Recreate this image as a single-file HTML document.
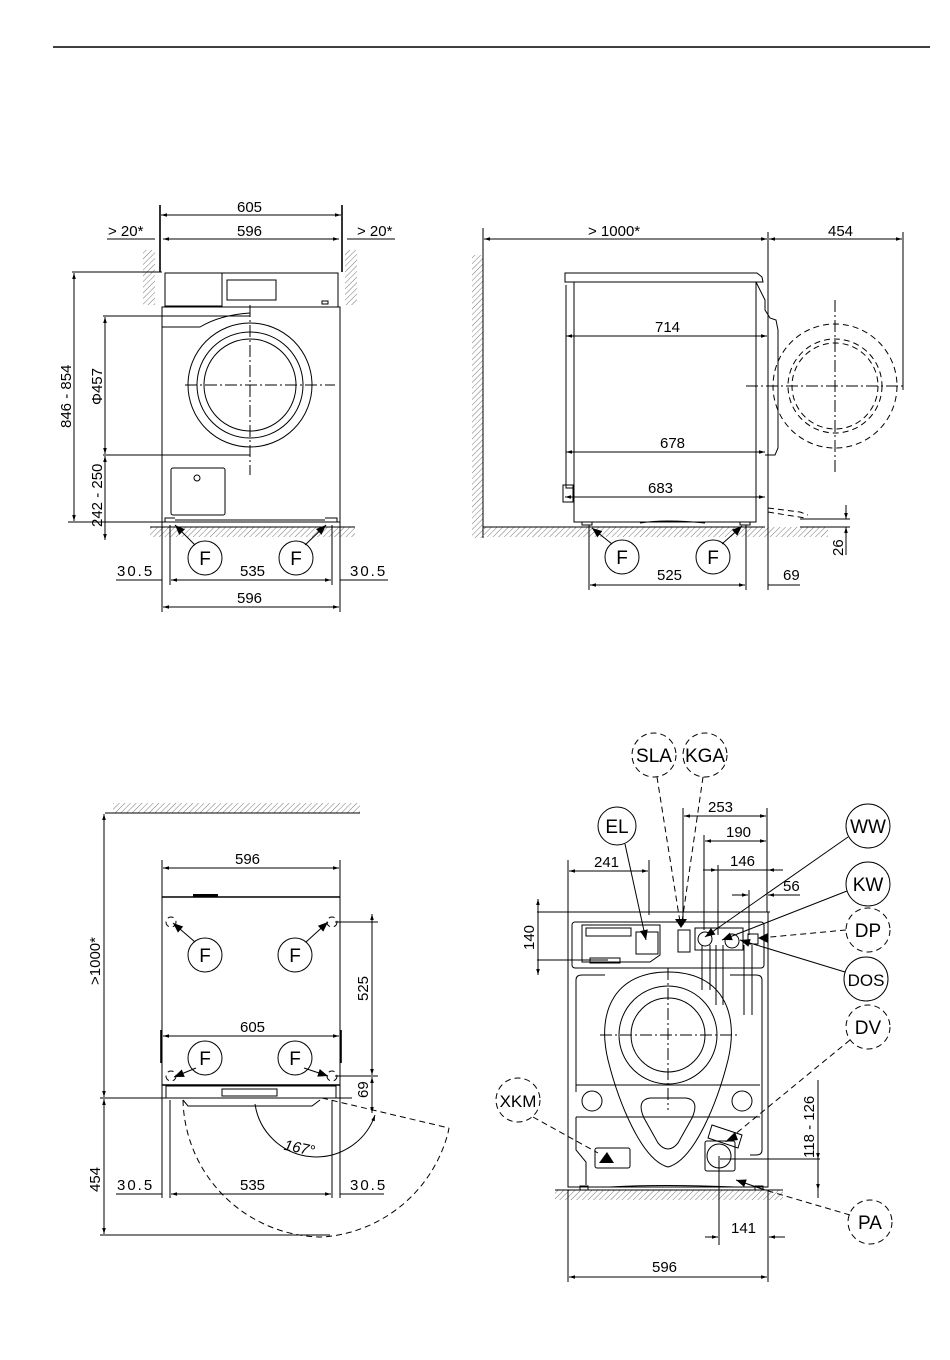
<!DOCTYPE html>
<html><head><meta charset="utf-8"><style>
html,body{margin:0;padding:0;background:#fff}
svg{display:block}
text{font-family:"Liberation Sans",sans-serif;font-size:15px;fill:#000}
.l{stroke:#000;stroke-width:1;fill:none}
.t{stroke:#000;stroke-width:1.6;fill:none}
.d{stroke:#000;stroke-width:1;fill:none;stroke-dasharray:6 4}
.c{stroke:#000;stroke-width:1;fill:none;stroke-dasharray:12 3 2 3}
.dim{stroke:#000;stroke-width:1;fill:none;marker-start:url(#a);marker-end:url(#a)}
.co{font-size:19px;text-anchor:middle}
</style></head><body>
<svg width="950" height="1360" viewBox="0 0 950 1360" xmlns="http://www.w3.org/2000/svg">
<defs>
<marker id="a" viewBox="0 0 10 10" refX="10" refY="5" markerWidth="9" markerHeight="6" orient="auto-start-reverse"><path d="M0,2 L10,5 L0,8z" fill="#000"/></marker>
<marker id="ar" viewBox="0 0 10 10" refX="10" refY="5" markerWidth="12" markerHeight="10" orient="auto"><path d="M0,1 L10,5 L0,9z" fill="#000"/></marker>
<pattern id="h" width="4" height="4" patternUnits="userSpaceOnUse" patternTransform="rotate(45)"><line x1="0" y1="0" x2="0" y2="4" stroke="#777" stroke-width="1"/></pattern>
</defs>
<line x1="53" y1="47" x2="930" y2="47" stroke="#000" stroke-width="1.5"/>

<!-- FRONT VIEW -->
<rect x="143" y="250" width="12" height="55" fill="url(#h)"/>
<rect x="345" y="250" width="12" height="55" fill="url(#h)"/>
<rect x="150" y="527" width="205" height="10" fill="url(#h)"/>
<line class="l" x1="150" y1="527" x2="355" y2="527"/>
<line class="t" x1="160" y1="205" x2="160" y2="272"/><line class="t" x1="342" y1="205" x2="342" y2="272"/>
<line class="dim" x1="161" y1="215" x2="341" y2="215"/><text x="237" y="212">605</text>
<line class="dim" x1="163" y1="239" x2="339" y2="239"/><text x="237" y="236">596</text>
<line class="l" x1="107" y1="239" x2="155" y2="239"/><text x="108" y="236">&gt; 20*</text>
<line class="l" x1="347" y1="239" x2="395" y2="239"/><text x="357" y="236">&gt; 20*</text>
<rect class="l" x="165" y="273" width="173" height="34"/>
<rect class="l" x="165" y="273" width="57" height="33"/>
<rect class="l" x="227" y="280" width="49" height="20"/>
<rect class="l" x="322" y="301" width="6" height="3"/>
<rect class="l" x="162" y="307" width="178" height="215"/>
<path class="l" d="M162,327 L200,327 Q220,315 250,313"/>
<circle class="l" cx="250" cy="385" r="62"/>
<circle class="l" cx="250" cy="385" r="53"/>
<circle class="l" cx="250" cy="385" r="46"/>
<line class="c" x1="185" y1="385" x2="335" y2="385"/>
<line class="c" x1="250" y1="305" x2="250" y2="475"/>
<rect class="l" x="171" y="468" width="54" height="47" rx="2"/>
<circle class="l" cx="197" cy="478" r="3"/>
<path class="l" d="M165,522 L165,518 L175,518 M325,518 L337,518 L337,522 M175,520 L325,520"/>
<line class="l" x1="72" y1="272" x2="162" y2="272"/><line class="l" x1="68" y1="522" x2="162" y2="522"/>
<line class="dim" x1="74" y1="273" x2="74" y2="521"/><text transform="translate(71,428) rotate(-90)">846 - 854</text>
<line class="l" x1="103" y1="316" x2="250" y2="316"/><line class="l" x1="103" y1="455" x2="250" y2="455"/>
<line class="dim" x1="105" y1="317" x2="105" y2="454"/><text transform="translate(102,405) rotate(-90)">Φ457</text>
<line class="dim" x1="105" y1="456" x2="105" y2="540"/><text transform="translate(102,527) rotate(-90)">242 - 250</text>
<circle class="l" cx="205" cy="558" r="17"/><text class="co" x="205" y="565">F</text>
<circle class="l" cx="296" cy="558" r="17"/><text class="co" x="296" y="565">F</text>
<line class="l" x1="195" y1="545" x2="175" y2="525" marker-end="url(#ar)"/>
<line class="l" x1="305" y1="545" x2="326" y2="525" marker-end="url(#ar)"/>
<line class="l" x1="162" y1="522" x2="162" y2="612"/><line class="l" x1="340" y1="522" x2="340" y2="612"/>
<line class="l" x1="170" y1="525" x2="170" y2="585"/><line class="l" x1="332" y1="525" x2="332" y2="585"/>
<line class="dim" x1="171" y1="580" x2="331" y2="580"/><text x="240" y="576">535</text>
<line class="l" x1="116" y1="580" x2="162" y2="580"/><text x="117" y="576" style="letter-spacing:2px">30.5</text>
<line class="l" x1="340" y1="580" x2="388" y2="580"/><text x="350" y="576" style="letter-spacing:2px">30.5</text>
<line class="dim" x1="163" y1="607" x2="339" y2="607"/><text x="237" y="603">596</text>

<!-- SIDE VIEW -->
<rect x="472" y="255" width="11" height="283" fill="url(#h)"/>
<line class="l" x1="483" y1="228" x2="483" y2="538"/>
<rect x="483" y="527" width="345" height="10" fill="url(#h)"/>
<line class="l" x1="483" y1="527" x2="765" y2="527"/>
<line class="dim" x1="484" y1="239" x2="767" y2="239"/><text x="588" y="236">&gt; 1000*</text>
<line class="dim" x1="769" y1="239" x2="902" y2="239"/><text x="828" y="236">454</text>
<line class="l" x1="768" y1="232" x2="768" y2="590"/><line class="l" x1="903" y1="232" x2="903" y2="390"/>
<path class="l" d="M565,273 L757,273 L762,277 L763,282 L565,282 Z"/>
<rect class="l" x="574" y="282" width="182" height="240"/>
<path class="l" d="M566,285 L566,488 L574,488 M756,282 L765,300 L765,310 L770,318 L776,320 L778,330 L778,448 L775,455 L765,455"/>
<rect class="l" x="563" y="485" width="10" height="17"/>
<line class="dim" x1="566" y1="336" x2="767" y2="336"/><text x="655" y="332">714</text>
<line class="dim" x1="566" y1="452" x2="765" y2="452"/><text x="660" y="448">678</text>
<line class="dim" x1="565" y1="497" x2="765" y2="497"/><text x="648" y="493">683</text>
<circle class="d" cx="835" cy="386" r="62"/>
<circle class="d" cx="835" cy="386" r="47"/>
<circle class="d" cx="835" cy="386" r="43"/>
<line class="c" x1="746" y1="386" x2="905" y2="386"/>
<line class="c" x1="835" y1="300" x2="835" y2="475"/>
<path class="l" d="M582,522 L592,522 L592,525 L582,525z M740,522 L750,522 L750,525 L740,525z M640,523 Q665,519 705,523"/>
<path class="d" d="M768,508 L800,512 L808,515 M768,512 L805,518"/>
<line class="l" x1="800" y1="519" x2="850" y2="519"/><line class="l" x1="800" y1="527" x2="850" y2="527"/>
<line class="l" x1="846" y1="505" x2="846" y2="519" marker-end="url(#a)"/>
<line class="l" x1="846" y1="555" x2="846" y2="527" marker-end="url(#a)"/>
<text transform="translate(843,556) rotate(-90)">26</text>
<circle class="l" cx="622" cy="557" r="17"/><text class="co" x="622" y="564">F</text>
<circle class="l" cx="713" cy="557" r="17"/><text class="co" x="713" y="564">F</text>
<line class="l" x1="612" y1="544" x2="592" y2="528" marker-end="url(#ar)"/>
<line class="l" x1="722" y1="544" x2="742" y2="526" marker-end="url(#ar)"/>
<line class="l" x1="589" y1="525" x2="589" y2="590"/><line class="l" x1="746" y1="525" x2="746" y2="590"/>
<line class="dim" x1="590" y1="585" x2="745" y2="585"/><text x="657" y="580">525</text>
<line class="l" x1="768" y1="585" x2="800" y2="585"/><text x="783" y="580">69</text>

<!-- TOP VIEW -->
<rect x="113" y="803" width="247" height="10" fill="url(#h)"/>
<line class="l" x1="105" y1="813" x2="360" y2="813"/>
<line class="dim" x1="104" y1="814" x2="104" y2="1097"/><text transform="translate(100,985) rotate(-90)">&gt;1000*</text>
<line class="l" x1="100" y1="1098" x2="352" y2="1098"/>
<line class="dim" x1="104" y1="1099" x2="104" y2="1234"/><text transform="translate(100,1192) rotate(-90)">454</text>
<line class="l" x1="100" y1="1235" x2="330" y2="1235"/>
<line class="l" x1="162" y1="860" x2="162" y2="1198"/><line class="l" x1="340" y1="860" x2="340" y2="1198"/>
<line class="dim" x1="163" y1="868" x2="339" y2="868"/><text x="235" y="864">596</text>
<line class="t" x1="162" y1="897" x2="340" y2="897"/>
<rect x="193" y="894" width="25" height="3" fill="#000"/>
<line class="dim" x1="163" y1="1036" x2="339" y2="1036"/><text x="240" y="1032">605</text>
<line class="t" x1="161" y1="1030" x2="161" y2="1063"/><line class="t" x1="341" y1="1030" x2="341" y2="1063"/>
<line class="t" x1="162" y1="1085" x2="340" y2="1085"/>
<rect class="l" x="166" y="1086" width="170" height="12"/>
<rect class="l" x="222" y="1089" width="55" height="7"/>
<path class="l" d="M183,1100 L188,1106 L312,1106 L320,1100"/>
<circle class="d" cx="171" cy="922" r="5"/><circle class="d" cx="332" cy="922" r="5"/>
<circle class="d" cx="171" cy="1076" r="5"/><circle class="d" cx="332" cy="1076" r="5"/>
<circle class="l" cx="205" cy="955" r="17"/><text class="co" x="205" y="962">F</text>
<circle class="l" cx="295" cy="955" r="17"/><text class="co" x="295" y="962">F</text>
<circle class="l" cx="205" cy="1058" r="17"/><text class="co" x="205" y="1065">F</text>
<circle class="l" cx="295" cy="1058" r="17"/><text class="co" x="295" y="1065">F</text>
<line class="l" x1="195" y1="942" x2="173" y2="923" marker-end="url(#ar)"/>
<line class="l" x1="306" y1="942" x2="328" y2="922" marker-end="url(#ar)"/>
<line class="l" x1="196" y1="1068" x2="174" y2="1077" marker-end="url(#ar)"/>
<line class="l" x1="304" y1="1068" x2="328" y2="1076" marker-end="url(#ar)"/>
<line class="l" x1="335" y1="922" x2="378" y2="922"/><line class="l" x1="335" y1="1076" x2="378" y2="1076"/>
<line class="dim" x1="372" y1="914" x2="372" y2="1075"/><text transform="translate(368,1001) rotate(-90)">525</text>
<line class="dim" x1="372" y1="1077" x2="372" y2="1113"/><text transform="translate(368,1098) rotate(-90)">69</text>
<path class="d" d="M183,1100 A140,140 0 0 0 323,1237 A140,140 0 0 0 448,1133 L449,1128"/>
<line class="d" x1="322" y1="1098" x2="449" y2="1128"/>
<path class="l" d="M255,1104 A62,62 0 0 0 375,1115" marker-end="url(#a)"/>
<text x="284" y="1153" transform="rotate(12 300 1148)" style="font-style:italic">167°</text>
<line class="l" x1="170" y1="1100" x2="170" y2="1198"/><line class="l" x1="332" y1="1100" x2="332" y2="1198"/>
<line class="dim" x1="171" y1="1194" x2="331" y2="1194"/><text x="240" y="1190">535</text>
<line class="l" x1="116" y1="1194" x2="162" y2="1194"/><text x="117" y="1190" style="letter-spacing:2px">30.5</text>
<line class="l" x1="340" y1="1194" x2="384" y2="1194"/><text x="350" y="1190" style="letter-spacing:2px">30.5</text>

<!-- REAR VIEW -->
<rect x="555" y="1190" width="228" height="10" fill="url(#h)"/>
<line class="l" x1="555" y1="1190" x2="783" y2="1190"/>
<line class="l" x1="537" y1="912" x2="770" y2="912"/>
<rect class="l" x="568" y="912" width="200" height="275"/>
<rect class="l" x="572" y="922" width="192" height="46" rx="3"/>
<path class="l" d="M582,925 L660,925 L660,955 L650,962 L582,962 Z"/>
<rect class="l" x="586" y="928" width="45" height="8"/>
<rect class="l" x="636" y="932" width="22" height="22"/>
<rect class="l" x="590" y="958" width="30" height="5"/>
<rect class="l" x="678" y="930" width="12" height="22"/>
<rect class="l" x="695" y="928" width="48" height="22"/>
<circle class="l" cx="705" cy="939" r="7"/><circle class="l" cx="732" cy="941" r="7"/>
<rect class="l" x="748" y="934" width="10" height="10"/>
<path class="l" d="M702,945 L702,990 M710,945 L710,990 M716,945 L716,1005 M723,945 L723,1005 M744,945 L744,1015 M752,945 L752,1015"/>
<path class="l" d="M576,1092 L576,980 Q576,975 582,975 L605,975 M730,975 L756,975 Q762,975 762,980 L762,1150 Q762,1155 756,1155 L750,1155"/>
<path class="l" d="M576,1085 L760,1085 M576,1117 L760,1117 M576,1117 L576,1150 L586,1162 L586,1185"/>
<path class="l" d="M668,972 C720,972 740,1010 728,1060 C718,1100 695,1160 668,1167 C641,1160 618,1100 608,1060 C596,1010 616,972 668,972 Z"/>
<circle class="l" cx="668" cy="1035" r="49"/>
<circle class="l" cx="668" cy="1035" r="37"/>
<path class="l" d="M650,1098 L686,1098 Q700,1100 692,1118 L678,1143 Q668,1155 658,1143 L644,1118 Q636,1100 650,1098 Z"/>
<line class="c" x1="600" y1="1035" x2="738" y2="1035"/>
<line class="c" x1="668" y1="968" x2="668" y2="1110"/>
<circle class="l" cx="592" cy="1101" r="10"/><circle class="l" cx="742" cy="1101" r="10"/>
<rect class="l" x="595" y="1148" width="35" height="20" rx="2"/>
<path d="M599,1163 L607,1152 L614,1163 Z" fill="#000"/>
<rect class="l" x="705" y="1141" width="30" height="30" rx="2"/>
<circle class="l" cx="719" cy="1156" r="12"/>
<path class="l" d="M712,1125 L742,1135 L738,1148 L708,1138 Z"/>
<path class="l" d="M580,1186 L588,1186 L588,1190 L580,1190z M755,1186 L763,1186 L763,1190 L755,1190z M610,1187 Q660,1184 735,1187"/>
<!-- dims -->
<line class="l" x1="568" y1="860" x2="568" y2="912"/><line class="l" x1="649" y1="860" x2="649" y2="915"/>
<line class="dim" x1="569" y1="871" x2="648" y2="871"/><text x="594" y="867">241</text>
<line class="l" x1="683" y1="808" x2="683" y2="925"/><line class="l" x1="767" y1="808" x2="767" y2="912"/>
<line class="dim" x1="684" y1="816" x2="766" y2="816"/><text x="708" y="812">253</text>
<line class="l" x1="704" y1="835" x2="704" y2="930"/>
<line class="dim" x1="705" y1="841" x2="766" y2="841"/><text x="726" y="837">190</text>
<line class="l" x1="718" y1="865" x2="718" y2="935"/>
<line class="l" x1="703" y1="870" x2="783" y2="870"/>
<line class="l" x1="703" y1="870" x2="717" y2="870" marker-end="url(#a)"/><line class="l" x1="783" y1="870" x2="768" y2="870" marker-end="url(#a)"/>
<text x="730" y="866">146</text>
<line class="l" x1="749" y1="890" x2="749" y2="935"/>
<line class="l" x1="732" y1="895" x2="748" y2="895" marker-end="url(#a)"/><line class="l" x1="800" y1="895" x2="768" y2="895" marker-end="url(#a)"/>
<text x="783" y="891">56</text>
<line class="l" x1="537" y1="960" x2="608" y2="960"/>
<line class="dim" x1="538" y1="899" x2="538" y2="975"/><text transform="translate(534,950) rotate(-90)">140</text>
<line class="l" x1="720" y1="1159" x2="820" y2="1159"/>
<line class="l" x1="818" y1="1080" x2="818" y2="1198"/>
<line class="l" x1="818" y1="1150" x2="818" y2="1159" marker-end="url(#a)"/><line class="l" x1="818" y1="1180" x2="818" y2="1190" marker-end="url(#a)"/>
<text transform="translate(814,1158) rotate(-90)">118 - 126</text>
<line class="l" x1="719" y1="1156" x2="719" y2="1245"/>
<line class="l" x1="705" y1="1237" x2="718" y2="1237" marker-end="url(#a)"/><line class="l" x1="785" y1="1237" x2="769" y2="1237" marker-end="url(#a)"/>
<text x="731" y="1233">141</text>
<line class="l" x1="768" y1="1190" x2="768" y2="1282"/><line class="l" x1="568" y1="1190" x2="568" y2="1282"/>
<line class="dim" x1="569" y1="1277" x2="767" y2="1277"/><text x="652" y="1272">596</text>
<!-- callouts -->
<circle class="d" cx="654" cy="755" r="22"/><text class="co" x="654" y="762">SLA</text>
<circle class="d" cx="705" cy="755" r="22"/><text class="co" x="705" y="762">KGA</text>
<circle class="l" cx="617" cy="826" r="19"/><text class="co" x="617" y="833">EL</text>
<circle class="l" cx="868" cy="826" r="22"/><text class="co" x="868" y="833">WW</text>
<circle class="l" cx="868" cy="884" r="22"/><text class="co" x="868" y="891">KW</text>
<circle class="d" cx="868" cy="930" r="22"/><text class="co" x="868" y="937">DP</text>
<circle class="l" cx="866" cy="979" r="22"/><text class="co" x="866" y="986" style="font-size:17px">DOS</text>
<circle class="d" cx="868" cy="1027" r="22"/><text class="co" x="868" y="1034">DV</text>
<circle class="d" cx="518" cy="1100" r="22"/><text class="co" x="518" y="1107" style="font-size:17px">XKM</text>
<circle class="d" cx="870" cy="1222" r="22"/><text class="co" x="870" y="1229">PA</text>
<line class="d" x1="657" y1="777" x2="680" y2="922"/>
<line class="d" x1="703" y1="777" x2="682" y2="922"/>
<path d="M675,919 L687,919 L681,928 Z" fill="#000"/>
<line class="l" x1="625" y1="844" x2="646" y2="940" marker-end="url(#ar)"/>
<line class="l" x1="848" y1="837" x2="705" y2="937" marker-end="url(#ar)"/>
<line class="l" x1="847" y1="891" x2="722" y2="940" marker-end="url(#ar)"/>
<line class="d" x1="846" y1="930" x2="760" y2="938"/><path d="M758,938 L768,933 L768,943Z" fill="#000"/>
<line class="l" x1="845" y1="972" x2="740" y2="940" marker-end="url(#ar)"/>
<line class="d" x1="850" y1="1040" x2="728" y2="1140"/><path d="M725,1142 L735,1132 L738,1140Z" fill="#000"/>
<line class="d" x1="533" y1="1117" x2="598" y2="1153"/>
<line class="d" x1="850" y1="1215" x2="765" y2="1190"/>
<line class="l" x1="765" y1="1190" x2="736" y2="1180" marker-end="url(#ar)"/>
</svg>
</body></html>
